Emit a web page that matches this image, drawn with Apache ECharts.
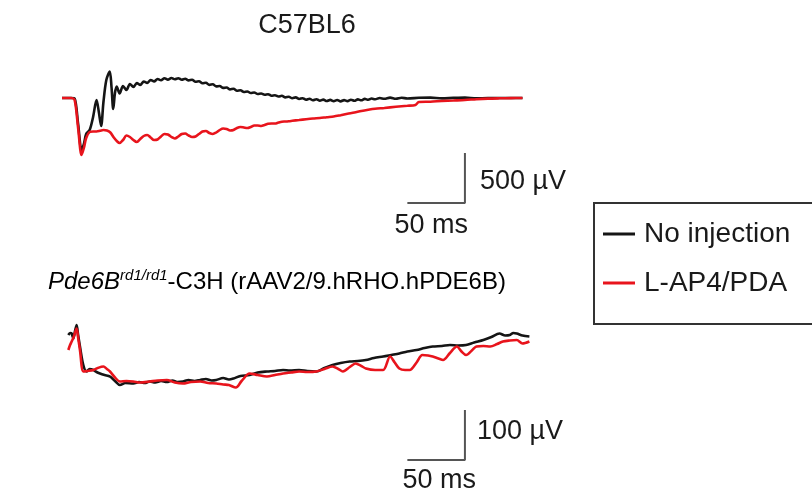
<!DOCTYPE html>
<html lang="en">
<head>
    <meta charset="UTF-8">
    <title>ERG traces</title>
    <script src="https://cdn.jsdelivr.net/npm/echarts@6/dist/echarts.min.js"></script>
    <style>
        html, body { margin: 0; padding: 0; background: #fff; }
        #chart { width: 812px; height: 499px; }
    </style>
</head>
<body>
    <div id="chart"></div>
    <script>
        // traces: [time (ms), amplitude (uV)]
        const topNoInjection = [
            [0, 0], [8, 0], [11, -5], [14, -260], [17, -520], [19, -460], [21, -360], [24, -320], [27, -190],
            [30, -20], [32, -140], [34, -280], [36, -40], [38.5, 180], [41.5, 265], [43, 110], [44.5, -110],
            [46, 50], [47.5, 115], [50, 45], [53, 120], [56, 80], [59, 140], [62, 110], [65, 150], [68, 130],
            [71, 165], [74, 150], [77, 180], [80, 165], [83, 190], [86, 177], [89, 198], [92, 184], [95, 200],
            [98, 187], [101, 198], [104, 183], [107, 192], [110, 176], [113, 183], [116, 163], [119, 168],
            [122, 148], [125, 152], [128, 131], [131, 137], [134, 116], [137, 120], [140, 101], [143, 105],
            [146, 86], [149, 92], [152, 73], [155, 78], [158, 60], [161, 65], [164, 50], [167, 55], [170, 40],
            [173, 45], [176, 33], [179, 38], [182, 23], [185, 28], [188, 15], [191, 22], [194, 6], [197, 12],
            [200, -2], [203, 6], [206, -10], [209, -2], [212, -17], [215, -8], [218, -22], [221, -12], [224, -27],
            [227, -16], [230, -30], [233, -19], [236, -32], [239, -20], [242, -34], [245, -21], [248, -31],
            [251, -17], [254, -28], [257, -14], [260, -23], [263, -9], [266, -18], [269, -5], [272, -13],
            [276, 0], [280, -8], [285, 4], [290, -8], [295, 2], [300, -5], [310, 2], [320, 4], [330, -4],
            [340, 1], [350, 4], [360, -4], [370, 0], [380, 0], [390, 0], [400, 0]
        ];
        const topLap4 = [
            [0, 0], [8, 0], [11, -20], [14, -300], [17, -570], [19, -500], [21, -400], [24, -340], [27, -335],
            [30, -335], [33, -328], [36, -320], [39, -325], [42, -345], [45, -395], [48, -435], [50, -450],
            [53, -420], [56, -375], [59, -390], [62, -420], [65, -440], [68, -410], [71, -380], [74, -370],
            [77, -395], [80, -420], [83, -415], [86, -385], [89, -360], [92, -365], [95, -390], [98, -405],
            [101, -385], [104, -360], [107, -355], [110, -375], [113, -390], [116, -385], [119, -360],
            [122, -335], [125, -330], [128, -350], [131, -360], [134, -345], [137, -320], [140, -305],
            [143, -310], [146, -325], [149, -320], [152, -300], [155, -290], [158, -295], [161, -300],
            [164, -290], [167, -275], [170, -275], [173, -280], [176, -270], [179, -258], [182, -255],
            [185, -255], [188, -245], [191, -237], [194, -235], [197, -232], [200, -228], [206, -220],
            [212, -212], [218, -205], [224, -200], [230, -192], [236, -185], [242, -172], [248, -158],
            [254, -145], [260, -130], [266, -118], [272, -108], [280, -100], [290, -88], [300, -78],
            [307, -70], [310, -40], [320, -37], [330, -30], [340, -25], [350, -20], [360, -12], [370, -6],
            [380, -3], [390, -1], [400, 0]
        ];
        const bottomNoInjection = [
            [5.5, 0], [7, 4], [8.4, 3], [9.8, -7], [11.5, 10], [12.7, 20], [14, 0], [15.6, -23], [18.5, -60],
            [21.4, -73], [24, -68], [27.3, -70], [30, -74], [33, -77], [37, -80], [41.7, -83], [46, -92],
            [50.3, -100], [55, -96], [62, -97], [67, -94], [72, -96], [76, -93], [81, -95], [86, -92],
            [91, -94], [96, -91], [100, -94], [105, -93], [110, -90], [115, -92], [120, -90], [125, -88],
            [130, -91], [134, -90], [140, -86], [145, -89], [149, -87], [155, -82], [163, -80], [170, -75],
            [178, -73], [185, -72], [192, -70], [198, -71], [206, -70], [213, -72], [221, -73], [228, -66],
            [235, -60], [242, -56], [250, -53], [257, -52], [264, -50], [271, -46], [279, -43], [286, -40],
            [293, -37], [300, -33], [308, -30], [315, -26], [322, -23], [330, -22], [337, -20], [344, -21],
            [351, -20], [358, -15], [366, -10], [373, -4], [380, 3], [385, -1], [389, 0], [392, 4],
            [395, 3], [400, -1], [406, -3]
        ];
        const bottomLap4 = [
            [5.5, -30], [7, -20], [8.4, -13], [10, -5], [12.7, 13], [14, -5], [15.6, -30], [18.5, -73],
            [22, -72], [27.3, -70], [31, -66], [36, -63], [39, -68], [41.7, -73], [46, -85], [50.3, -93],
            [56, -92], [62, -93], [68, -95], [76, -93], [83, -91], [91, -90], [98, -95], [105, -97],
            [112, -94], [120, -93], [127, -96], [134, -97], [140, -99], [145, -100], [151, -105], [156, -92],
            [163, -77], [170, -80], [178, -83], [185, -80], [192, -77], [199, -75], [206, -73], [213, -74],
            [221, -73], [228, -68], [235, -63], [240, -68], [244, -73], [250, -64], [255, -57], [260, -62],
            [264, -67], [272, -70], [279, -70], [285, -43], [289, -55], [293, -67], [298, -70], [302, -70],
            [308, -55], [313, -40], [318, -41], [322, -43], [327, -47], [331, -50], [337, -36], [343, -23],
            [347, -33], [351, -40], [356, -31], [360, -23], [366, -22], [372, -23], [378, -18], [383, -13],
            [389, -11], [395, -10], [400, -17], [406, -13]
        ];

        const seriesNames = ['No injection', 'L-AP4/PDA'];
        const seriesColors = ['#151515', '#e8141c'];

        // scale bars: length in ms and uV, placed by their corner
        const scaleTop = { ms: 50, uv: 500, endMs: 350, baseUv: -1050 };
        const scaleBottom = { ms: 50, uv: 100, endMs: 350, baseUv: -250 };

        const panelTitleTop = 'C57BL6';
        const fontFam = '"Liberation Sans", Arial, sans-serif';

        var myChart = echarts.init(document.getElementById('chart'));

        function scaleBarData(s) {
            return [
                [s.endMs - s.ms, s.baseUv],
                [s.endMs, s.baseUv],
                [s.endMs, s.baseUv + s.uv]
            ];
        }

        function trace(name, data, idx, color) {
            return {
                name: name,
                type: 'line',
                xAxisIndex: idx,
                yAxisIndex: idx,
                data: data,
                showSymbol: false,
                symbol: 'none',
                smooth: 0.3,
                lineStyle: { color: color, width: 2.6 },
                itemStyle: { color: color },
                animation: false,
                z: color === seriesColors[0] ? 3 : 4
            };
        }

        function bar(data, idx) {
            return {
                type: 'line',
                xAxisIndex: idx,
                yAxisIndex: idx,
                data: data,
                symbol: 'none',
                lineStyle: { color: '#555', width: 2 },
                animation: false,
                silent: true
            };
        }

        var option = {
            backgroundColor: '#fff',
            grid: [
                { left: 62, top: 58, width: 472, height: 150 },
                { left: 62, top: 315, width: 472, height: 150 }
            ],
            xAxis: [
                { type: 'value', gridIndex: 0, min: 0, max: 410, show: false },
                { type: 'value', gridIndex: 1, min: 0, max: 410, show: false }
            ],
            yAxis: [
                { type: 'value', gridIndex: 0, min: -1100, max: 400, show: false },
                { type: 'value', gridIndex: 1, min: -260, max: 40, show: false }
            ],
            legend: {
                data: seriesNames,
                orient: 'vertical',
                left: 594,
                top: 203,
                padding: [17, 60, 27, 9],
                itemGap: 21,
                itemWidth: 32,
                itemHeight: 3,
                icon: 'rect',
                borderColor: '#333',
                borderWidth: 2,
                borderRadius: 0,
                textStyle: { fontSize: 28, color: '#1a1a1a', fontFamily: fontFam, padding: [0, 0, 0, 4] }
            },
            series: [
                trace(seriesNames[0], topNoInjection, 0, seriesColors[0]),
                trace(seriesNames[1], topLap4, 0, seriesColors[1]),
                trace(seriesNames[0], bottomNoInjection, 1, seriesColors[0]),
                trace(seriesNames[1], bottomLap4, 1, seriesColors[1]),
                bar(scaleBarData(scaleTop), 0),
                bar(scaleBarData(scaleBottom), 1)
            ]
        };

        myChart.setOption(option);

        // labels placed from the scale bar positions
        function px(idx, t, v) {
            return myChart.convertToPixel({ gridIndex: idx }, [t, v]);
        }
        var t1 = px(0, scaleTop.endMs, scaleTop.baseUv + scaleTop.uv * 0.43);
        var t2 = px(0, scaleTop.endMs - scaleTop.ms / 2, scaleTop.baseUv);
        var b1 = px(1, scaleBottom.endMs, scaleBottom.baseUv + scaleBottom.uv * 0.57);
        var b2 = px(1, scaleBottom.endMs - scaleBottom.ms / 2, scaleBottom.baseUv);

        var txt = { fontSize: 27, fill: '#1a1a1a', fontFamily: fontFam };

        myChart.setOption({
            graphic: [
                { type: 'text', x: 307, y: 26,
                  style: Object.assign({ text: panelTitleTop, textAlign: 'center', verticalAlign: 'middle' }, txt) },
                { type: 'text', x: 48, y: 268,
                  style: {
                      text: '{it|Pde6B}{sup|rd1/rd1}{n|-C3H (rAAV2/9.hRHO.hPDE6B)}',
                      rich: {
                          it: { fontSize: 24, fontStyle: 'italic', fontFamily: fontFam, color: '#1a1a1a', lineHeight: 28 },
                          sup: { fontSize: 15, fontStyle: 'italic', fontFamily: fontFam, color: '#1a1a1a', verticalAlign: 'top', padding: [0, 0, 9, 0], lineHeight: 28 },
                          n: { fontSize: 24, fontFamily: fontFam, color: '#1a1a1a', lineHeight: 28 }
                      }
                  } },
                { type: 'text', x: t1[0] + 15, y: t1[1],
                  style: Object.assign({ text: scaleTop.uv + ' \u00b5V', verticalAlign: 'middle' }, txt) },
                { type: 'text', x: t2[0] - 5, y: t2[1] + 23,
                  style: Object.assign({ text: scaleTop.ms + ' ms', textAlign: 'center', verticalAlign: 'middle' }, txt) },
                { type: 'text', x: b1[0] + 12, y: b1[1],
                  style: Object.assign({ text: scaleBottom.uv + ' \u00b5V', verticalAlign: 'middle' }, txt) },
                { type: 'text', x: b2[0] + 3, y: b2[1] + 21,
                  style: Object.assign({ text: scaleBottom.ms + ' ms', textAlign: 'center', verticalAlign: 'middle' }, txt) }
            ]
        });

        window.addEventListener('resize', function () {
            myChart.resize();
        });
    </script>
</body>
</html>
